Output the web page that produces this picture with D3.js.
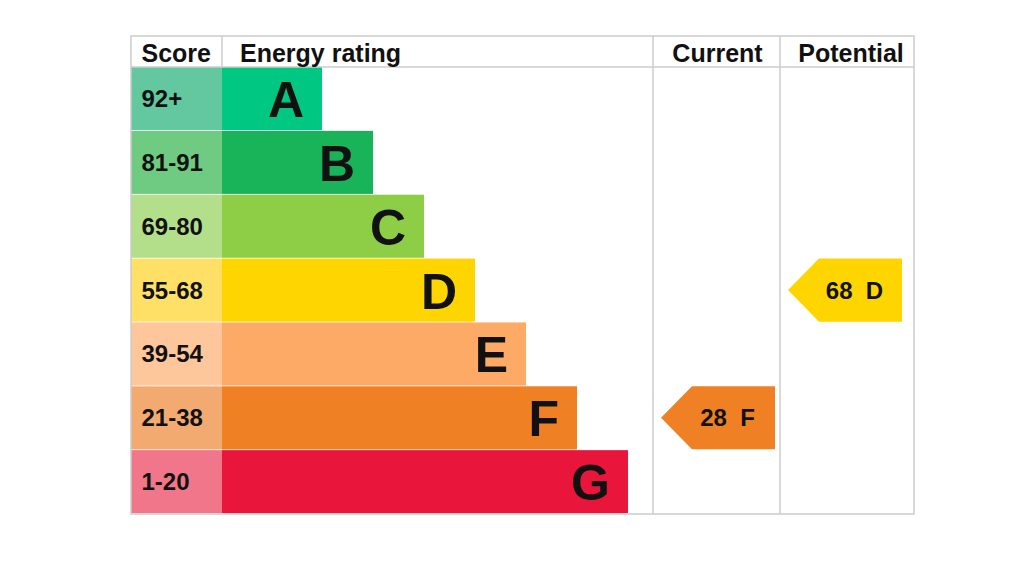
<!DOCTYPE html>
<html><head><meta charset="utf-8">
<script src="https://cdn.jsdelivr.net/npm/d3@7"></script>
<style>html,body{margin:0;padding:0;background:#fff;}svg{display:block;font-family:"Liberation Sans",Arial,Helvetica,sans-serif;}</style>
</head><body>
<svg id="c" width="1024" height="563"></svg>
<script>
const bands = ["A","B","C","D","E","F","G"];
const scores = ["92+","81-91","69-80","55-68","39-54","21-38","1-20"];
const barColors = ["#00c781","#19b459","#8dce46","#ffd500","#fcaa65","#ef8023","#e9153b"];
const scoreColors = ["#63c7a0","#70cb82","#b3df8a","#ffe066","#fdc79b","#f2aa71","#f2768a"];
const headers = ["Score","Energy rating","Current","Potential"];
const currentValue = 28, currentBand = "F";
const potentialValue = 68, potentialBand = "D";

const svg = d3.select("#c");
const L = 131, R = 914, T = 36, H = 67, B = 514;
const colX = [131, 222, 653, 780, 914];
const y = d3.scaleBand().domain(bands).range([H, B]).paddingInner(0.0);
const xw = d3.scaleLinear().domain([0, bands.length - 1]).range([322, 628]);

// score cells
svg.selectAll("rect.score").data(bands).join("rect")
  .attr("x", colX[0]).attr("y", d => y(d)).attr("width", colX[1] - colX[0]).attr("height", y.bandwidth() - 0.8)
  .attr("fill", (d,i) => scoreColors[i]);
svg.selectAll("text.score").data(bands).join("text")
  .attr("x", colX[0] + 10.5).attr("y", d => y(d) + y.bandwidth()/2 + 8)
  .attr("font-size", 24).attr("font-weight", "bold").attr("fill", "#111")
  .text((d,i) => scores[i]);

// bars
svg.selectAll("rect.bar").data(bands).join("rect")
  .attr("x", colX[1]).attr("y", d => y(d)).attr("width", (d,i) => xw(i) - colX[1]).attr("height", y.bandwidth() - 0.8)
  .attr("fill", (d,i) => barColors[i]);
svg.selectAll("text.bar").data(bands).join("text")
  .attr("x", (d,i) => xw(i) - 18).attr("y", d => y(d) + y.bandwidth()/2 + 18)
  .attr("text-anchor", "end").attr("font-size", 50).attr("font-weight", "bold").attr("fill", "#111")
  .text(d => d);

// grid lines
const g = svg.append("g").attr("stroke", "#cccccc").attr("stroke-width", 1.5).attr("fill", "none");
g.append("rect").attr("x", L).attr("y", T).attr("width", R - L).attr("height", B - T);
g.append("line").attr("x1", L).attr("x2", R).attr("y1", H).attr("y2", H);
g.append("line").attr("x1", colX[1]).attr("x2", colX[1]).attr("y1", T).attr("y2", H);
g.append("line").attr("x1", colX[2]).attr("x2", colX[2]).attr("y1", T).attr("y2", B);
g.append("line").attr("x1", colX[3]).attr("x2", colX[3]).attr("y1", T).attr("y2", B);

// headers
const hx = [colX[0] + 10.5, colX[1] + 18, (colX[2] + colX[3]) / 2 + 1, (colX[3] + colX[4]) / 2 + 4];
const ha = ["start", "start", "middle", "middle"];
svg.selectAll("text.head").data(headers).join("text")
  .attr("x", (d,i) => hx[i]).attr("y", 62).attr("text-anchor", (d,i) => ha[i])
  .attr("font-size", 25).attr("font-weight", "bold").attr("fill", "#111").text(d => d);

// arrows
function arrow(colIdx, band, value) {
  const i = bands.indexOf(band);
  const x0 = colX[colIdx] + 8, x1 = x0 + 114;
  const y0 = y(band), h = y.bandwidth() - 0.8, tip = 31;
  svg.append("path")
    .attr("d", `M${x0},${y0 + h/2} L${x0 + tip},${y0} L${x1},${y0} L${x1},${y0 + h} L${x0 + tip},${y0 + h} Z`)
    .attr("fill", barColors[i]);
  svg.append("text").attr("x", (x0 + tip + x1) / 2 - 6).attr("y", y0 + h/2 + 8.5)
    .attr("text-anchor", "middle").attr("font-size", 24).attr("font-weight", "bold").attr("fill", "#111")
    .attr("xml:space", "preserve").text(value + "  " + band);
}
arrow(2, currentBand, currentValue);
arrow(3, potentialBand, potentialValue);
</script>
</body></html>
